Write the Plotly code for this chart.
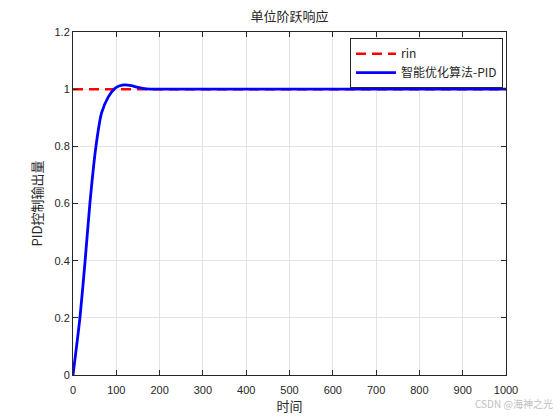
import plotly.graph_objects as go

# step response
t_rin = [0, 1000]
y_rin = [1, 1]

t_pid = [0, 16, 28, 39, 53, 66, 82, 97, 108, 120, 135, 150, 170, 200, 250, 1000]
y_pid = [0, 0.2, 0.4, 0.6, 0.8, 0.917, 0.974, 1.003, 1.012, 1.015, 1.012, 1.006, 1.001, 1.0, 1.0, 1.0]

x_ticks = [0, 100, 200, 300, 400, 500, 600, 700, 800, 900, 1000]
y_ticks = [0, 0.2, 0.4, 0.6, 0.8, 1.0, 1.2]
y_tick_labels = ['0', '0.2', '0.4', '0.6', '0.8', '1', '1.2']

cjk = 'Noto Sans CJK SC'
latin = 'Liberation Sans, Arial, sans-serif'

fig = go.Figure()

fig.add_trace(go.Scatter(
    x=t_rin, y=y_rin,
    mode='lines',
    name='rin',
    line=dict(color='#ff0000', width=2.5, dash='10px,6px')
))

fig.add_trace(go.Scatter(
    x=t_pid, y=y_pid,
    mode='lines',
    name='智能优化算法-PID',
    line=dict(color='#0000ff', width=2.8, shape='spline', smoothing=0.6)
))

axis_style = dict(
    showline=True, linecolor='#262626', linewidth=1,
    mirror='ticks', ticks='inside', ticklen=5, tickcolor='#262626',
    showgrid=True, gridcolor='#e3e3e3', gridwidth=1,
    zeroline=False,
    tickfont=dict(family=latin, size=11, color='#262626'),
)

fig.update_xaxes(
    range=[0, 1000], tickvals=x_ticks, ticklabelstandoff=5,
    title=dict(text='时间', font=dict(family=cjk, size=13, color='#262626'), standoff=4),
    **axis_style
)
fig.update_yaxes(
    range=[0, 1.2], tickvals=y_ticks, ticktext=y_tick_labels,
    title=dict(text='PID控制输出量', font=dict(family=cjk, size=13, color='#262626'), standoff=8),
    **axis_style
)

fig.update_layout(
    width=560, height=420,
    margin=dict(l=73, r=54, t=32, b=45),
    paper_bgcolor='white', plot_bgcolor='white',
    title=dict(text='单位阶跃响应', x=0.5, xref='paper', y=0.96, yanchor='middle',
               font=dict(family=cjk, size=13, color='#262626')),
    showlegend=True,
    legend=dict(
        x=0.993, y=0.982, xanchor='right', yanchor='top',
        bgcolor='white', bordercolor='#262626', borderwidth=1,
        font=dict(family=cjk, size=12, color='#262626'),
        tracegroupgap=0, itemwidth=40,
    ),
    annotations=[dict(
        text='CSDN @海神之光', xref='paper', yref='paper',
        x=1.113, y=-0.082, xanchor='right', yanchor='middle', showarrow=False,
        font=dict(family=cjk, size=10, color='#c0c0c0')
    )],
)

# drop the default page margin so the figure sits at the window corner
fig.write_html("out.html", config={'displayModeBar': False},
               post_script="document.body.style.margin='0px';")
